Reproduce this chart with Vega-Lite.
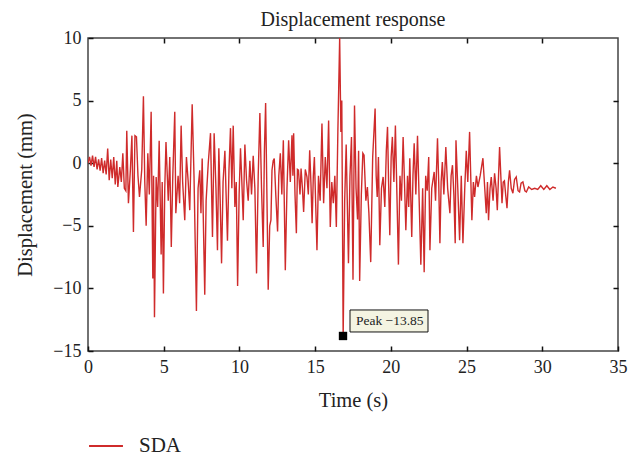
{
  "$schema": "https://vega.github.io/schema/vega-lite/v6.json",
  "autosize": "none",
  "width": 530,
  "height": 313,
  "padding": {"left": 88, "top": 38, "right": 21, "bottom": 105},
  "background": "white",
  "title": {"text": "Displacement response", "font": "Liberation Serif", "fontSize": 20, "fontWeight": "normal", "color": "#222", "offset": -1, "anchor": "middle"},
  "config": {
    "view": {"stroke": "#444", "strokeWidth": 1.5},
    "axis": {"labelFont": "Liberation Serif", "titleFont": "Liberation Serif", "labelFontSize": 18, "titleFontSize": 20.5, "titleFontWeight": "normal", "labelColor": "#222", "titleColor": "#222", "domain": false, "grid": false, "tickColor": "#111", "tickSize": -5, "tickWidth": 1.5, "labelFlush": false}
  },
  "datasets": {
    "sda": [
      {"t":0,"v":0},{"t":0.1,"v":0.5},{"t":0.2,"v":-0.2},{"t":0.3,"v":0.6},{"t":0.4,"v":-0.3},{"t":0.5,"v":0.5},{"t":0.6,"v":-0.5},{"t":0.7,"v":0.3},{"t":0.8,"v":-0.6},{"t":0.9,"v":0.4},{"t":1.0,"v":-0.8},{"t":1.1,"v":0.2},{"t":1.2,"v":-0.9},
      {"t":1.3,"v":1.17},{"t":1.4,"v":-1.36},{"t":1.5,"v":0.3},{"t":1.6,"v":-1.2},{"t":1.7,"v":0.5},{"t":1.8,"v":-1.7},{"t":1.9,"v":0.2},{"t":1.97,"v":-1.9},{"t":2.1,"v":-0.3},{"t":2.2,"v":-1.5},{"t":2.3,"v":0.8},{"t":2.4,"v":-2.0},{"t":2.5,"v":-2.2},{"t":2.56,"v":2.6},{"t":2.67,"v":-3.2},{"t":2.8,"v":-0.5},{"t":2.9,"v":2.2},{"t":3.0,"v":-5.5},{"t":3.1,"v":2.2},{"t":3.2,"v":2.1},{"t":3.3,"v":-1.0},{"t":3.4,"v":-2.7},{"t":3.55,"v":-0.5},{"t":3.66,"v":5.35},{"t":3.75,"v":-1.5},{"t":3.84,"v":-5.0},{"t":3.95,"v":0.8},{"t":4.05,"v":-2.5},{"t":4.17,"v":4.1},{"t":4.28,"v":-9.2},{"t":4.33,"v":-1.0},{"t":4.39,"v":-12.3},{"t":4.5,"v":-1.1},{"t":4.6,"v":-3.5},{"t":4.7,"v":1.8},{"t":4.83,"v":-7.3},{"t":4.9,"v":-1.5},{"t":4.98,"v":-10.4},{"t":5.07,"v":-2.0},{"t":5.15,"v":1.7},{"t":5.3,"v":-3.0},{"t":5.4,"v":0.5},{"t":5.5,"v":-6.7},{"t":5.6,"v":-1.0},{"t":5.73,"v":4.1},{"t":5.8,"v":-4.0},{"t":5.95,"v":-1.0},{"t":6.05,"v":-3.2},{"t":6.15,"v":3.0},{"t":6.25,"v":-1.5},{"t":6.39,"v":-4.55},{"t":6.5,"v":0.5},{"t":6.61,"v":-1.36},{"t":6.72,"v":-3.75},{"t":6.88,"v":4.7},{"t":7.0,"v":-1.0},{"t":7.16,"v":-11.8},{"t":7.27,"v":-2.0},{"t":7.38,"v":-0.56},{"t":7.46,"v":-4.0},{"t":7.54,"v":0.37},{"t":7.71,"v":-10.5},{"t":7.8,"v":-3.0},{"t":7.94,"v":-0.03},{"t":8.09,"v":2.4},{"t":8.22,"v":-5.9},{"t":8.33,"v":2.4},{"t":8.45,"v":-2.0},{"t":8.55,"v":-6.95},{"t":8.64,"v":1.2},{"t":8.73,"v":-3.0},{"t":8.82,"v":-8.0},{"t":8.92,"v":-1.5},{"t":9.04,"v":1.0},{"t":9.12,"v":-2.5},{"t":9.21,"v":-6.2},{"t":9.31,"v":-0.5},{"t":9.41,"v":2.8},{"t":9.5,"v":-2.0},{"t":9.59,"v":3.0},{"t":9.7,"v":-3.5},{"t":9.79,"v":-1.5},{"t":9.88,"v":-9.8},{"t":9.98,"v":-2.5},{"t":10.07,"v":1.2},{"t":10.16,"v":-1.5},{"t":10.25,"v":-4.55},{"t":10.36,"v":1.5},{"t":10.47,"v":-1.36},{"t":10.58,"v":-3.0},{"t":10.69,"v":0.2},{"t":10.8,"v":-2.5},{"t":10.91,"v":0.6},{"t":11.02,"v":-2.0},{"t":11.13,"v":-8.8},{"t":11.24,"v":-1.0},{"t":11.35,"v":4.0},{"t":11.46,"v":-2.0},{"t":11.57,"v":-6.7},{"t":11.65,"v":1.0},{"t":11.73,"v":4.8},{"t":11.82,"v":-3.0},{"t":11.9,"v":-10.1},{"t":12.0,"v":-5.0},{"t":12.08,"v":-4.55},{"t":12.15,"v":-0.56},{"t":12.23,"v":0.2},{"t":12.3,"v":0.37},{"t":12.4,"v":-2.5},{"t":12.52,"v":-5.45},{"t":12.6,"v":-1.0},{"t":12.7,"v":0.8},{"t":12.8,"v":-2.5},{"t":12.9,"v":1.84},{"t":13.03,"v":-8.55},{"t":13.14,"v":-2.0},{"t":13.25,"v":1.84},{"t":13.36,"v":-1.5},{"t":13.47,"v":2.24},{"t":13.53,"v":-1.0},{"t":13.58,"v":2.4},{"t":13.67,"v":-2.5},{"t":13.76,"v":-5.6},{"t":13.83,"v":-0.5},{"t":13.9,"v":-0.56},{"t":14.0,"v":-2.5},{"t":14.07,"v":-0.43},{"t":14.16,"v":-2.0},{"t":14.24,"v":-3.9},{"t":14.35,"v":-0.5},{"t":14.46,"v":-1.1},{"t":14.55,"v":-2.5},{"t":14.64,"v":1.04},{"t":14.72,"v":-1.5},{"t":14.8,"v":-4.8},{"t":14.88,"v":-1.0},{"t":14.95,"v":0.5},{"t":15.03,"v":-3.0},{"t":15.12,"v":-6.95},{"t":15.22,"v":-1.0},{"t":15.33,"v":-3.0},{"t":15.45,"v":3.17},{"t":15.56,"v":-3.2},{"t":15.67,"v":0.5},{"t":15.78,"v":-2.0},{"t":15.89,"v":3.4},{"t":16.0,"v":-5.1},{"t":16.1,"v":-1.5},{"t":16.2,"v":-3.2},{"t":16.3,"v":-1.0},{"t":16.4,"v":-5.1},{"t":16.5,"v":2.5},{"t":16.62,"v":10.0},{"t":16.7,"v":2.5},{"t":16.76,"v":5.0},{"t":16.85,"v":-13.85},{"t":16.95,"v":-3.0},{"t":17.05,"v":1.5},{"t":17.2,"v":-8.0},{"t":17.3,"v":-1.0},{"t":17.4,"v":2.1},{"t":17.5,"v":-9.3},{"t":17.6,"v":4.6},{"t":17.7,"v":-2.0},{"t":17.8,"v":-4.5},{"t":17.87,"v":1.0},{"t":17.94,"v":-9.4},{"t":18.05,"v":-2.5},{"t":18.15,"v":0.8},{"t":18.23,"v":0.64},{"t":18.35,"v":-3.0},{"t":18.45,"v":-1.9},{"t":18.55,"v":-4.0},{"t":18.67,"v":-7.9},{"t":18.8,"v":0.5},{"t":18.96,"v":4.37},{"t":19.03,"v":-1.0},{"t":19.1,"v":-2.7},{"t":19.18,"v":0.5},{"t":19.27,"v":-6.55},{"t":19.38,"v":-2.0},{"t":19.49,"v":-1.1},{"t":19.6,"v":-3.5},{"t":19.7,"v":1.0},{"t":19.78,"v":2.9},{"t":19.85,"v":-1.5},{"t":19.93,"v":-5.75},{"t":20.02,"v":0.5},{"t":20.1,"v":2.1},{"t":20.2,"v":-1.5},{"t":20.3,"v":3.0},{"t":20.4,"v":-2.5},{"t":20.5,"v":-8.1},{"t":20.6,"v":-1.0},{"t":20.7,"v":-3.0},{"t":20.81,"v":2.1},{"t":20.9,"v":-1.5},{"t":20.99,"v":-5.35},{"t":21.1,"v":-1.0},{"t":21.18,"v":-3.5},{"t":21.25,"v":0.4},{"t":21.38,"v":-5.9},{"t":21.46,"v":-1.0},{"t":21.54,"v":1.6},{"t":21.65,"v":-2.5},{"t":21.76,"v":2.2},{"t":21.87,"v":-3.0},{"t":21.98,"v":-8.1},{"t":22.1,"v":-2.0},{"t":22.2,"v":-8.7},{"t":22.3,"v":-1.0},{"t":22.4,"v":-2.2},{"t":22.5,"v":0.5},{"t":22.58,"v":-6.95},{"t":22.7,"v":-2.0},{"t":22.86,"v":-0.7},{"t":22.95,"v":-3.0},{"t":23.08,"v":2.0},{"t":23.16,"v":-1.5},{"t":23.24,"v":-6.4},{"t":23.32,"v":-1.5},{"t":23.4,"v":0.1},{"t":23.5,"v":-2.5},{"t":23.63,"v":1.3},{"t":23.75,"v":-2.0},{"t":23.9,"v":-4.0},{"t":23.98,"v":-1.0},{"t":24.07,"v":-0.16},{"t":24.16,"v":-2.5},{"t":24.25,"v":-6.4},{"t":24.3,"v":1.84},{"t":24.42,"v":-2.0},{"t":24.54,"v":-6.15},{"t":24.65,"v":-1.0},{"t":24.76,"v":-6.4},{"t":24.88,"v":-2.0},{"t":24.98,"v":1.0},{"t":25.08,"v":-1.5},{"t":25.2,"v":2.5},{"t":25.35,"v":-4.55},{"t":25.45,"v":-1.5},{"t":25.53,"v":-2.7},{"t":25.65,"v":-1.0},{"t":25.75,"v":-1.9},{"t":25.9,"v":-1.0},{"t":26.08,"v":0.4},{"t":26.2,"v":-2.0},{"t":26.3,"v":-4.0},{"t":26.38,"v":-1.5},{"t":26.45,"v":-4.55},{"t":26.55,"v":-2.0},{"t":26.63,"v":-1.1},{"t":26.75,"v":-3.0},{"t":26.85,"v":-0.8},{"t":26.95,"v":-2.0},{"t":27.03,"v":-3.75},{"t":27.18,"v":1.3},{"t":27.34,"v":-3.2},{"t":27.42,"v":-1.5},{"t":27.5,"v":-1.4},{"t":27.58,"v":-2.5},{"t":27.67,"v":-3.6},{"t":27.76,"v":-1.5},{"t":27.84,"v":-0.56},{"t":27.95,"v":-2.0},{"t":28.06,"v":-2.4},{"t":28.17,"v":-1.3},{"t":28.28,"v":-1.1},{"t":28.4,"v":-2.2},{"t":28.5,"v":-2.3},{"t":28.6,"v":-1.6},{"t":28.72,"v":-1.5},{"t":28.85,"v":-2.2},{"t":28.95,"v":-2.3},{"t":29.1,"v":-1.9},{"t":29.3,"v":-2.1},{"t":29.5,"v":-2.0},{"t":29.7,"v":-2.1},{"t":29.9,"v":-1.8},{"t":30.1,"v":-2.1},{"t":30.3,"v":-1.8},{"t":30.5,"v":-2.1},{"t":30.7,"v":-1.9},{"t":30.9,"v":-2.0}
    ],
    "peak": [{"t": 16.84, "v": -13.8, "label": "Peak −13.85"}]
  },
  "layer": [
    {
      "data": {"name": "sda"},
      "mark": {"type": "line", "strokeWidth": 1.4, "clip": true},
      "encoding": {
        "x": {"field": "t", "type": "quantitative", "scale": {"domain": [0, 35], "nice": false}, "axis": {"orient": "bottom", "values": [0,5,10,15,20,25,30,35], "title": "Time (s)", "labelPadding": 12, "titlePadding": 14}},
        "y": {"field": "v", "type": "quantitative", "scale": {"domain": [-15, 10], "nice": false}, "axis": {"orient": "left", "values": [-15,-10,-5,0,5,10], "title": "Displacement (mm)", "labelPadding": 12, "titleX": -57, "titleBaseline": "alphabetic"}},
        "color": {"datum": "SDA", "type": "nominal", "scale": {"range": ["#cf2b2b"]}, "legend": {"title": null, "orient": "none", "legendX": 0, "legendY": 390, "symbolType": "stroke", "symbolSize": 1150, "symbolStrokeWidth": 2, "labelFont": "Liberation Serif", "labelFontSize": 21, "labelColor": "#222", "labelOffset": 15, "padding": 0}}
      }
    },
    {
      "data": {"name": "peak"},
      "mark": {"type": "point", "shape": "square", "size": 70, "filled": true, "color": "black", "opacity": 1},
      "encoding": {
        "x": {"field": "t", "type": "quantitative", "axis": {"orient": "top", "values": [5,10,15,20,25,30], "labels": false, "title": null}},
        "y": {"field": "v", "type": "quantitative", "axis": {"orient": "right", "values": [-10,-5,0,5], "labels": false, "title": null}}
      }
    },
    {
      "data": {"name": "peak"},
      "mark": {"type": "rect", "fill": "#f4f4e2", "stroke": "#111", "strokeWidth": 1, "xOffset": 7, "x2Offset": 85, "yOffset": -26, "y2Offset": -4},
      "encoding": {
        "x": {"field": "t", "type": "quantitative", "axis": null},
        "x2": {"field": "t"},
        "y": {"field": "v", "type": "quantitative", "axis": null},
        "y2": {"field": "v"}
      }
    },
    {
      "data": {"name": "peak"},
      "mark": {"type": "text", "font": "Liberation Serif", "fontSize": 13.5, "color": "#222", "align": "left", "baseline": "middle", "dx": 13, "dy": -15},
      "encoding": {
        "x": {"field": "t", "type": "quantitative", "axis": null},
        "y": {"field": "v", "type": "quantitative", "axis": null},
        "text": {"field": "label"}
      }
    }
  ],
  "resolve": {"axis": {"x": "independent", "y": "independent"}}
}
